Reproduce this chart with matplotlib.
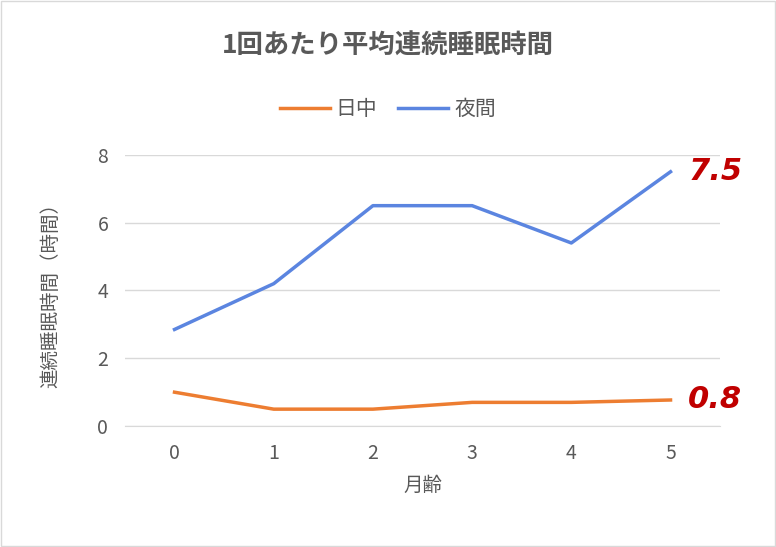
import matplotlib.pyplot as plt
from matplotlib.patches import Rectangle

plt.rcParams['font.family'] = 'Noto Sans CJK JP'

months = [0, 1, 2, 3, 4, 5]
daytime = [1.0, 0.5, 0.5, 0.7, 0.7, 0.77]
night = [2.85, 4.2, 6.5, 6.5, 5.4, 7.5]
yticks = [0, 2, 4, 6, 8]

fig = plt.figure(figsize=(7.76, 5.47), dpi=100)
ax = fig.add_axes([0.161, 0.221, 0.767, 0.496])
fig.patches.append(Rectangle((0.001, 0.001), 0.998, 0.998, transform=fig.transFigure,
                             fill=False, edgecolor='#d9d9d9', linewidth=1))

ax.plot(months, daytime, color='#ed7d31', linewidth=2.5, label='日中')
ax.plot(months, night, color='#5b85e0', linewidth=2.5, label='夜間')

ax.set_xlim(-0.5, 5.5)
ax.set_ylim(0, 8)
ax.set_yticks(yticks)
ax.set_xticks(months)
ax.grid(axis='y', color='#d9d9d9', linewidth=1)
ax.set_axisbelow(True)
for s in ['top', 'right', 'left']:
    ax.spines[s].set_visible(False)
ax.spines['bottom'].set_color('#d9d9d9')
ax.tick_params(length=0, labelsize=14, colors='#595959', pad=12)

ax.text(5.18, night[-1], f'{night[-1]:.1f}', color='#c00000', fontsize=22,
        fontweight='bold', style='italic', va='center', ha='left', family='DejaVu Sans')
ax.text(5.18, daytime[-1], f'{daytime[-1]:.1f}', color='#c00000', fontsize=22,
        fontweight='bold', style='italic', va='center', ha='left', family='DejaVu Sans')

ax.set_xlabel('月齢', fontsize=14, color='#595959', labelpad=8)
ax.set_ylabel('連続睡眠時間（時間）', fontsize=14, color='#595959', labelpad=26)

fig.text(0.5, 0.915, '1回あたり平均連続睡眠時間', ha='center', va='center',
         fontsize=19, fontweight='bold', color='#595959')
fig.legend(loc='center', bbox_to_anchor=(0.5, 0.8), ncol=2, frameon=False,
           fontsize=15, labelcolor='#595959', handlelength=2.4,
           handletextpad=0.3, columnspacing=1.0)

fig.savefig('out.png', dpi=100)
